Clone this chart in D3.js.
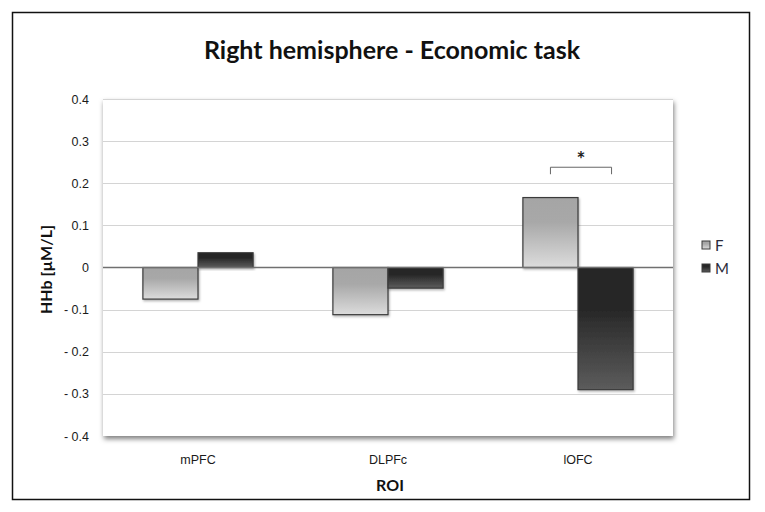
<!DOCTYPE html>
<html>
<head>
<meta charset="utf-8">
<script src="https://cdn.jsdelivr.net/npm/d3@7"></script>
<style>
  body { margin: 0; background: #fff; }
  svg { display: block; font-family: Lato, 'Open Sans', sans-serif; }
</style>
</head>
<body>
<svg width="765" height="512"></svg>
<script>
'use strict'

const rois = ['mPFC', 'DLPFc', 'lOFC']
const groups = ['F', 'M']
const valuesF = [-0.075, -0.112, 0.166]
const valuesM = [0.035, -0.049, -0.29]
const yTicks = [0.4, 0.3, 0.2, 0.1, 0, -0.1, -0.2, -0.3, -0.4]

const margin = { top: 99, right: 92, bottom: 76, left: 103 }
const W = 765, H = 512
const width = W - margin.left - margin.right,
  height = H - margin.top - margin.bottom

const svg = d3.select('svg')
const defs = svg.append('defs')

// gradients, top to bottom like the office fill
const fills = {
  F: ['#a5a5a5', '#a8a8a8', '#dcdcdc'],
  M: ['#262626', '#282828', '#5c5c5c']
}
groups.forEach(g => {
  const lg = defs.append('linearGradient')
    .attr('id', 'grad' + g)
    .attr('x1', 0).attr('y1', 0).attr('x2', 0).attr('y2', 1)
  lg.append('stop').attr('offset', '0%').attr('stop-color', fills[g][0])
  lg.append('stop').attr('offset', '35%').attr('stop-color', fills[g][1])
  lg.append('stop').attr('offset', '100%').attr('stop-color', fills[g][2])
})

const shadow = defs.append('filter').attr('id', 'shadow')
  .attr('x', '-5%').attr('y', '-5%').attr('width', '110%').attr('height', '115%')
shadow.append('feDropShadow')
  .attr('dx', 1).attr('dy', 3).attr('stdDeviation', 2.5)
  .attr('flood-color', '#000').attr('flood-opacity', 0.5)

const barShadow = defs.append('filter').attr('id', 'barShadow')
  .attr('x', '-10%').attr('y', '-10%').attr('width', '130%').attr('height', '130%')
barShadow.append('feDropShadow')
  .attr('dx', 1).attr('dy', 1.5).attr('stdDeviation', 1)
  .attr('flood-color', '#000').attr('flood-opacity', 0.3)

// outer frame
svg.append('rect')
  .attr('x', 12.5).attr('y', 12.5)
  .attr('width', 737).attr('height', 487)
  .attr('fill', '#fff')
  .attr('stroke', '#111')
  .attr('stroke-width', 1.5)

svg.append('text')
  .attr('x', 392).attr('y', 59)
  .attr('text-anchor', 'middle')
  .attr('font-size', 25)
  .attr('font-weight', 'bold')
  .attr('fill', '#111')
  .text('Right hemisphere - Economic task')

const g = svg.append('g')
  .attr('transform', 'translate(' + margin.left + ',' + margin.top + ')')

const x0 = d3.scaleBand().domain(rois).range([0, width]).paddingInner(0).paddingOuter(0)
const x1 = d3.scaleBand().domain(groups).range([x0.bandwidth() * 0.21, x0.bandwidth() * 0.79])
const y = d3.scaleLinear().domain([-0.4, 0.4]).range([height, 0])

g.append('rect')
  .attr('width', width).attr('height', height)
  .attr('fill', '#fff')
  .attr('filter', 'url(#shadow)')

g.append('g')
  .selectAll('line')
  .data(yTicks.filter(t => t !== 0 && t !== -0.4))
  .join('line')
  .attr('x1', 0).attr('x2', width)
  .attr('y1', d => Math.round(y(d)) + 0.5)
  .attr('y2', d => Math.round(y(d)) + 0.5)
  .attr('stroke', '#d4d4d4')
  .attr('stroke-width', 1)

const yAxis = g.append('g')
  .call(d3.axisLeft(y).tickValues(yTicks).tickSize(0).tickPadding(14)
    .tickFormat(d => d < 0 ? '- ' + d3.format('.1f')(-d) : (d === 0 ? '0' : d3.format('.1f')(d))))
yAxis.select('.domain').remove()
yAxis.selectAll('text').attr('font-size', 12.5).attr('font-weight', 500).attr('fill', '#1a1a1a')

const data = rois.map((r, i) => ({ roi: r, F: valuesF[i], M: valuesM[i] }))

g.append('g')
  .selectAll('g')
  .data(data)
  .join('g')
  .attr('transform', d => 'translate(' + x0(d.roi) + ',0)')
  .selectAll('rect')
  .data(d => groups.map(k => ({ key: k, value: d[k] })))
  .join('rect')
  .attr('x', d => x1(d.key))
  .attr('width', x1.bandwidth())
  .attr('y', d => y(Math.max(0, d.value)))
  .attr('height', d => Math.abs(y(d.value) - y(0)))
  .attr('fill', d => 'url(#grad' + d.key + ')')
  .attr('stroke', '#3a3a3a')
  .attr('stroke-width', 1.2)
  .attr('filter', 'url(#barShadow)')

// zero line
g.append('line')
  .attr('x1', 0).attr('x2', width)
  .attr('y1', y(0)).attr('y2', y(0))
  .attr('stroke', '#707070')
  .attr('stroke-width', 1.3)

// significance bracket over lOFC
const bx1 = x0('lOFC') + x1('F') + x1.bandwidth() * 0.5
const bx2 = x0('lOFC') + x1('M') + x1.bandwidth() * 0.5 + 6
const by = y(0.238)
g.append('path')
  .attr('d', 'M' + bx1 + ',' + (by + 7) + 'V' + by + 'H' + bx2 + 'V' + (by + 7))
  .attr('fill', 'none')
  .attr('stroke', '#666')
  .attr('stroke-width', 1)
g.append('text')
  .attr('x', (bx1 + bx2) / 2).attr('y', by - 0)
  .attr('text-anchor', 'middle')
  .attr('font-size', 21)
  .attr('font-weight', 'bold')
  .attr('fill', '#222')
  .text('*')

const xAxis = g.append('g')
  .attr('transform', 'translate(0,' + height + ')')
  .call(d3.axisBottom(x0).tickSize(0).tickPadding(19))
xAxis.select('.domain').remove()
xAxis.selectAll('text').attr('font-size', 12.5).attr('font-weight', 500).attr('fill', '#1a1a1a')

svg.append('text')
  .attr('x', margin.left + width / 2 + 2).attr('y', 491)
  .attr('text-anchor', 'middle')
  .attr('font-size', 16)
  .attr('font-weight', 'bold')
  .attr('fill', '#111')
  .text('ROI')

svg.append('text')
  .attr('transform', 'translate(52,' + (margin.top + height / 2 + 2) + ') rotate(-90)')
  .attr('text-anchor', 'middle')
  .attr('font-size', 16)
  .attr('font-weight', 'bold')
  .attr('fill', '#111')
  .text('HHb [µM/L]')

// legend
const legend = svg.append('g').attr('transform', 'translate(702,241)')
  .selectAll('g')
  .data(groups)
  .join('g')
  .attr('transform', (d, i) => 'translate(0,' + i * 23 + ')')
legend.append('rect')
  .attr('width', 8).attr('height', 8)
  .attr('fill', d => 'url(#grad' + d + ')')
  .attr('stroke', '#3a3a3a')
  .attr('stroke-width', 1)
legend.append('text')
  .attr('x', 13).attr('y', 9.5)
  .attr('font-size', 15)
  .attr('fill', '#2a2a3a')
  .text(d => d)
</script>
</body>
</html>
